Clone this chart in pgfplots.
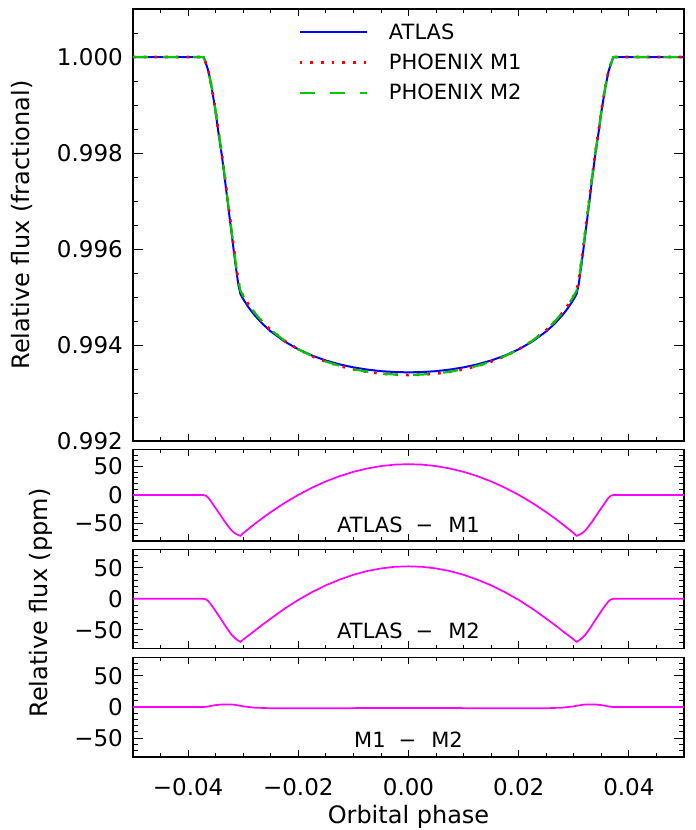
\documentclass[border=0pt]{standalone}
\usepackage{fontspec}
\setmainfont{DejaVu Sans}
\usepackage{pgfplots}
\usepackage{pgfplotstable}
\pgfplotsset{compat=1.18}
\newcommand{\fs}[1]{\fontsize{#1}{#1}\selectfont}
\definecolor{mgreen}{rgb}{0,0.78,0}
\definecolor{mmag}{rgb}{1,0,1}

\pgfplotstableread{
x atlas m1 m2
-0.0500 1.000000 1.000000 1.000000
-0.0372 1.000000 1.000000 1.000000
-0.0368 0.999880 0.999881 0.9998807
-0.0363 0.999700 0.999705 0.999704
-0.0357 0.999350 0.999363 0.999361
-0.0351 0.998930 0.9989515 0.9989485
-0.0345 0.998430 0.998460 0.9984565
-0.0339 0.997970 0.9980085 0.9980045
-0.0333 0.997430 0.997477 0.9974728
-0.0327 0.996870 0.996925 0.9969208
-0.0321 0.996320 0.996382 0.996378
-0.0315 0.995770 0.995837 0.9958335
-0.0309 0.995270 0.995340 0.9953375
-0.0305 0.995060 0.9951315 0.9951295
-0.0300 0.994956 0.9950229 0.9950219
-0.0290 0.994780 0.994839 0.994839
-0.0280 0.994630 0.9946813 0.9946823
-0.0265 0.994441 0.9944814 0.9944829
-0.0250 0.994284 0.994314 0.994316
-0.0225 0.994074 0.994088 0.994090
-0.0200 0.993910 0.9939098 0.9939118
-0.0175 0.993780 0.9937672 0.9937692
-0.0150 0.993677 0.9936532 0.9936552
-0.0125 0.993597 0.993564 0.993566
-0.0100 0.993534 0.9934934 0.9934952
-0.0075 0.993488 0.9934416 0.9934431
-0.0050 0.993455 0.9934044 0.9934059
-0.0025 0.993437 0.9933838 0.9933853
0.0000 0.993430 0.993376 0.9933775
0.0025 0.993437 0.9933838 0.9933853
0.0050 0.993455 0.9934044 0.9934059
0.0075 0.993488 0.9934416 0.9934431
0.0100 0.993534 0.9934934 0.9934952
0.0125 0.993597 0.993564 0.993566
0.0150 0.993677 0.9936532 0.9936552
0.0175 0.993780 0.9937672 0.9937692
0.0200 0.993910 0.9939098 0.9939118
0.0225 0.994074 0.994088 0.994090
0.0250 0.994284 0.994314 0.994316
0.0265 0.994441 0.9944814 0.9944829
0.0280 0.994630 0.9946813 0.9946823
0.0290 0.994780 0.994839 0.994839
0.0300 0.994956 0.9950229 0.9950219
0.0305 0.995060 0.9951315 0.9951295
0.0309 0.995270 0.995340 0.9953375
0.0315 0.995770 0.995837 0.9958335
0.0321 0.996320 0.996382 0.996378
0.0327 0.996870 0.996925 0.9969208
0.0333 0.997430 0.997477 0.9974728
0.0339 0.997970 0.9980085 0.9980045
0.0345 0.998430 0.998460 0.9984565
0.0351 0.998930 0.9989515 0.9989485
0.0357 0.999350 0.999363 0.999361
0.0363 0.999700 0.999705 0.999704
0.0368 0.999880 0.999881 0.9998807
0.0372 1.000000 1.000000 1.000000
0.0500 1.000000 1.000000 1.000000
}\maindata

\pgfplotstableread{
x r1 r2 r3
-0.0500 0 0 0
-0.0372 0 0 0
-0.0368 -1 -0.7 0.3
-0.0363 -5 -4 1
-0.0357 -13 -11 2
-0.0351 -21.5 -18.5 3
-0.0345 -30 -26.5 3.5
-0.0339 -38.5 -34.5 4
-0.0333 -47 -42.8 4.2
-0.0327 -55 -50.8 4.2
-0.0321 -62 -58 4
-0.0315 -67 -63.5 3.5
-0.0309 -70 -67.5 2.5
-0.0305 -71.5 -69.5 2
-0.0300 -66.9 -65.9 1
-0.0290 -59.0 -59.0 0
-0.0280 -51.3 -52.3 -1
-0.0265 -40.4 -41.9 -1.5
-0.0250 -30.0 -32.0 -2
-0.0225 -14.0 -16.0 -2
-0.0200 0.25 -1.75 -2
-0.0175 12.8 10.8 -2
-0.0150 23.8 21.8 -2
-0.0125 33.0 31.0 -2
-0.0100 40.6 38.8 -1.8
-0.0075 46.4 44.9 -1.5
-0.0050 50.6 49.1 -1.5
-0.0025 53.2 51.7 -1.5
0.0000 54 52.5 -1.5
0.0025 53.2 51.7 -1.5
0.0050 50.6 49.1 -1.5
0.0075 46.4 44.9 -1.5
0.0100 40.6 38.8 -1.8
0.0125 33.0 31.0 -2
0.0150 23.8 21.8 -2
0.0175 12.8 10.8 -2
0.0200 0.25 -1.75 -2
0.0225 -14.0 -16.0 -2
0.0250 -30.0 -32.0 -2
0.0265 -40.4 -41.9 -1.5
0.0280 -51.3 -52.3 -1
0.0290 -59.0 -59.0 0
0.0300 -66.9 -65.9 1
0.0305 -71.5 -69.5 2
0.0309 -70 -67.5 2.5
0.0315 -67 -63.5 3.5
0.0321 -62 -58 4
0.0327 -55 -50.8 4.2
0.0333 -47 -42.8 4.2
0.0339 -38.5 -34.5 4
0.0345 -30 -26.5 3.5
0.0351 -21.5 -18.5 3
0.0357 -13 -11 2
0.0363 -5 -4 1
0.0368 -1 -0.7 0.3
0.0372 0 0 0
0.0500 0 0 0
}\resdata

\pgfplotsset{
  common/.style={
    scale only axis, width=551pt,
    xmin=-0.05, xmax=0.05,
    scaled ticks=false,
    axis line style={line width=1.6pt, black},
    tick style={line width=0.9pt, black},
    major tick length=10pt, minor tick length=5pt,
    xtick={-0.04,-0.02,0,0.02,0.04},
    minor xtick={-0.045,-0.035,-0.03,-0.025,-0.015,-0.01,-0.005,0.005,0.01,0.015,0.025,0.03,0.035,0.045},
    xtick style={/pgfplots/major tick length=7pt,/pgfplots/minor tick length=3.7pt},
    xticklabels={},
    ticklabel style={font=\fs{23}},
    yticklabel style={inner sep=0pt, xshift=-10pt},
    xticklabel style={inner sep=0pt, yshift=-22pt},
  },
  resid/.style={
    ymin=-80, ymax=80,
    ytick={-50,0,50}, yticklabels={−50,0,50},
    minor ytick={-70,-60,-40,-30,-20,-10,10,20,30,40,60,70},
  },
  res/.style={color=mmag, line width=1.7pt},
}

\begin{document}
\begin{tikzpicture}
\path[use as bounding box] (0pt,0pt) rectangle (696pt,-830pt);

\begin{axis}[common, at={(133pt,-9pt)}, anchor=north west, height=432pt,
  ymin=0.992, ymax=1.001,
  ytick={0.992,0.994,0.996,0.998,1.000},
  yticklabels={0.992,0.994,0.996,0.998,1.000},
  minor ytick={0.9925,0.993,0.9935,0.9945,0.995,0.9955,0.9965,0.997,0.9975,0.9985,0.999,0.9995,1.0005},
  legend style={at={(rel axis cs:0.2995,0.966)}, anchor=north west, draw=none, fill=none,
    inner sep=0pt, row sep=13pt, column sep=21pt,
    nodes={inner sep=0pt, font=\fs{21}}},
  legend cell align=left,
  legend image code/.code={\draw[#1] (0pt,0pt) -- (67pt,0pt);},
]
\addplot[color=blue, line width=2pt] table[x=x, y=atlas]{\maindata};
\addlegendentry{ATLAS}
\addplot[color=red, line width=2.7pt, dash pattern=on 2.7pt off 8pt] table[x=x, y=m1]{\maindata};
\addlegendentry{PHOENIX M1}
\addplot[color=mgreen, line width=2.2pt, dash pattern=on 15pt off 15pt] table[x=x, y=m2]{\maindata};
\addlegendentry{PHOENIX M2}
\end{axis}

\begin{axis}[common, resid, at={(133pt,-449.3pt)}, anchor=north west, height=91.4pt]
\addplot[res] table[x=x, y=r1]{\resdata};
\node[font=\fs{21}] at (axis cs:0,-52) {ATLAS\hspace{13pt}−\hspace{15pt}M1};
\end{axis}

\begin{axis}[common, resid, at={(133pt,-549.3pt)}, anchor=north west, height=99pt]
\addplot[res] table[x=x, y=r2]{\resdata};
\node[font=\fs{21}] at (axis cs:0,-52) {ATLAS\hspace{13pt}−\hspace{15pt}M2};
\end{axis}

\begin{axis}[common, resid, at={(133pt,-657.3pt)}, anchor=north west, height=99.4pt,
  xticklabels={−0.04,−0.02,0.00,0.02,0.04}]
\addplot[res] table[x=x, y=r3]{\resdata};
\node[font=\fs{21}] at (axis cs:0,-52) {M1\hspace{13pt}−\hspace{15pt}M2};
\end{axis}

\node[rotate=90, font=\fs{24}] at (22pt,-225pt) {Relative flux (fractional)};
\node[rotate=90, font=\fs{24}] at (41pt,-603pt) {Relative flux (ppm)};
\node[font=\fs{24}] at (408.5pt,-817pt) {Orbital phase};
\end{tikzpicture}
\end{document}
